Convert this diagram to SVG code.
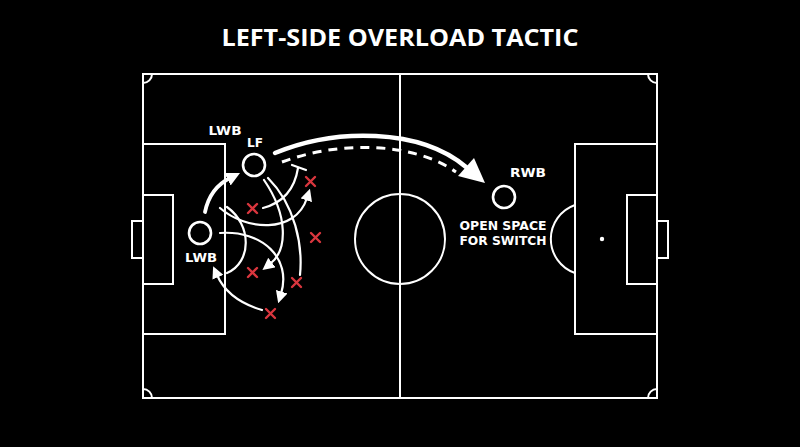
<svg xmlns="http://www.w3.org/2000/svg" width="800" height="447" viewBox="0 0 800 447">
<defs>
<style>
.pitch{fill:none;stroke:#fff;stroke-width:2}
.run{fill:none;stroke:#fff;stroke-width:2.2;stroke-linecap:round}
.player{fill:none;stroke:#fff;stroke-width:2.6}
.lbl{font-family:"DejaVu Sans","Liberation Sans",sans-serif;font-weight:700;fill:#fff;text-anchor:middle}
.title{font-family:"Open Sans","Liberation Sans",sans-serif;font-weight:700;fill:#fff;text-anchor:middle}
.x{stroke:#d9363e;stroke-width:2.4;stroke-linecap:round}
</style>
<marker id="ah" markerUnits="userSpaceOnUse" markerWidth="12" markerHeight="12" viewBox="0 0 10 10" refX="2" refY="5" orient="auto">
<path d="M0,0 L10,5 L0,10 z" fill="#fff"/>
</marker>
<marker id="ahb" markerUnits="userSpaceOnUse" markerWidth="14" markerHeight="14" viewBox="0 0 10 10" refX="2" refY="5" orient="auto">
<path d="M0,0 L10,5 L0,10 z" fill="#fff"/>
</marker>
</defs>
<rect width="800" height="447" fill="#000"/>
<text class="title" x="400" y="46" font-size="23.5" textLength="357" lengthAdjust="spacingAndGlyphs">LEFT-SIDE OVERLOAD TACTIC</text>
<g id="pitch">
<rect class="pitch" x="143" y="74" width="514" height="324"/>
<line class="pitch" x1="400" y1="74" x2="400" y2="398"/>
<circle class="pitch" cx="400" cy="239" r="45"/>
<rect class="pitch" x="143" y="144" width="82" height="190"/>
<rect class="pitch" x="143" y="195" width="30" height="89"/>
<rect class="pitch" x="132" y="221" width="11" height="37"/>
<rect class="pitch" x="575" y="144" width="82" height="190"/>
<rect class="pitch" x="627" y="195" width="30" height="89"/>
<rect class="pitch" x="657" y="221" width="11" height="37"/>
<circle cx="602" cy="239" r="2.2" fill="#fff"/>
<path class="pitch" d="M575,205 A36,36 0 0 0 575,273"/>
<path class="pitch" d="M143,83 A9,9 0 0 0 152,74"/>
<path class="pitch" d="M152,398 A9,9 0 0 0 143,389"/>
<path class="pitch" d="M648,74 A9,9 0 0 0 657,83"/>
<path class="pitch" d="M657,389 A9,9 0 0 0 648,398"/>
</g>
<g id="connectors">
<path d="M205,212 Q210,188 230,178" fill="none" stroke="#fff" stroke-width="3.8" stroke-linecap="round" marker-end="url(#ahb)"/>
<path class="run" d="M263,208 Q293,200 298,168"/>
<line class="run" x1="292" y1="165" x2="306" y2="170"/>
<path class="run" d="M220,208 C245,230 295,235 307,198" marker-end="url(#ah)"/>
<path class="run" d="M264,180 C288,215 288,250 270,264" marker-end="url(#ah)"/>
<path class="run" d="M268,178 C295,205 303,245 300,275"/>
<path class="run" d="M220,233 C262,230 292,258 281,294" marker-end="url(#ah)"/>
<path class="run" d="M227,207 C252,225 252,262 227,273"/>
<path class="run" d="M262,310 Q228,300 217,275" marker-end="url(#ah)"/>
<path d="M275,153 C335,128 420,128 466,167" fill="none" stroke="#fff" stroke-width="4.5" stroke-linecap="round"/>
<polygon points="485,183 458,176 474,158" fill="#fff"/>
<path d="M282,162 C335,142 410,140 456,172" fill="none" stroke="#fff" stroke-width="3" stroke-dasharray="9,7"/>
</g>
<g id="defenders">
<path class="x" d="M306,177 l9,9 m0,-9 l-9,9"/>
<path class="x" d="M248,204 l9,9 m0,-9 l-9,9"/>
<path class="x" d="M311,233 l9,9 m0,-9 l-9,9"/>
<path class="x" d="M248,268 l9,9 m0,-9 l-9,9"/>
<path class="x" d="M292,278 l9,9 m0,-9 l-9,9"/>
<path class="x" d="M266,309 l9,9 m0,-9 l-9,9"/>
</g>
<g id="lwb-top"><text class="lbl" x="225" y="135" font-size="12.5" textLength="33" lengthAdjust="spacingAndGlyphs">LWB</text></g>
<g id="lf">
<circle class="player" cx="254" cy="165" r="11"/>
<text class="lbl" x="255" y="147" font-size="12.5" textLength="16" lengthAdjust="spacingAndGlyphs">LF</text>
</g>
<g id="lwb">
<circle class="player" cx="200" cy="233" r="11"/>
<text class="lbl" x="201" y="262" font-size="12.5" textLength="32" lengthAdjust="spacingAndGlyphs">LWB</text>
</g>
<g id="rwb">
<circle class="player" cx="504" cy="197" r="11"/>
<text class="lbl" x="528" y="177" font-size="12.5" textLength="36" lengthAdjust="spacingAndGlyphs">RWB</text>
</g>
<g id="open-space">
<text class="lbl" x="503" y="230" font-size="12" textLength="87" lengthAdjust="spacingAndGlyphs">OPEN SPACE</text>
<text class="lbl" x="503" y="245" font-size="12" textLength="87" lengthAdjust="spacingAndGlyphs">FOR SWITCH</text>
</g>
</svg>
